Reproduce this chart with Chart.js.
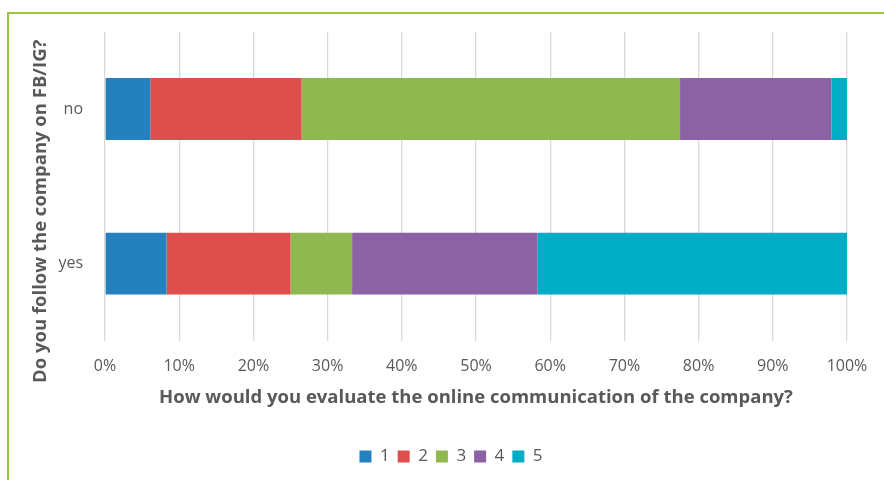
<!DOCTYPE html>
<html>
<head>
<meta charset="utf-8">
<title>Online communication vs. following on FB/IG</title>
<script src="https://cdn.jsdelivr.net/npm/chart.js@4"></script>
<style>
  html, body { margin: 0; padding: 0; background: #fff; overflow: hidden; }
  #frame {
    position: absolute; left: 7px; top: 12px;
    width: 920px; height: 520px;
    border: 2px solid #9bc53f;
  }
  #wrap { position: absolute; left: 0; top: 0; width: 884px; height: 480px; }
</style>
</head>
<body>
<div id="frame"></div>
<div id="wrap"><canvas id="chart" width="884" height="480"></canvas></div>
<script>
// answers per group, share of respondents in %
const categories = ['no', 'yes'];
const ratingLabels = ['1', '2', '3', '4', '5'];
const rating1 = [6.1, 8.3];
const rating2 = [20.4, 16.7];
const rating3 = [51.0, 8.3];
const rating4 = [20.4, 25.0];
const rating5 = [2.1, 41.7];
const xTicks = [0, 10, 20, 30, 40, 50, 60, 70, 80, 90, 100];

const colors = ['#2481bd', '#dd4f4d', '#8fb850', '#8b62a3', '#00adc6'];
const textGray = '#595959';
const fontFamily = '"Open Sans", "DejaVu Sans", sans-serif';

const yTitle = 'Do you follow the company on FB/IG?';

const seriesValues = [rating1, rating2, rating3, rating4, rating5];
const datasets = seriesValues.map((values, i) => ({
  label: ratingLabels[i],
  data: values,
  backgroundColor: colors[i],
  borderWidth: 0,
  barPercentage: 0.4,
  categoryPercentage: 1,
}));

// rotated y-axis title, drawn by hand so it can sit a bit lower than the plot centre
const yTitlePlugin = {
  id: 'yTitlePlugin',
  afterDraw(chart) {
    const { ctx, chartArea } = chart;
    ctx.save();
    ctx.font = 'bold 18.5px ' + fontFamily;
    ctx.fillStyle = textGray;
    ctx.textAlign = 'center';
    ctx.textBaseline = 'middle';
    ctx.translate(41, (chartArea.top + chartArea.bottom) / 2 + 25);
    ctx.rotate(-Math.PI / 2);
    ctx.fillText(yTitle, 0, 0);
    ctx.restore();
  }
};

new Chart(document.getElementById('chart'), {
  type: 'bar',
  data: { labels: categories, datasets: datasets },
  plugins: [yTitlePlugin],
  options: {
    indexAxis: 'y',
    responsive: false,
    animation: false,
    // left padding keeps the legend centred under the plot, y title is drawn separately
    layout: { padding: { top: 30, right: 37, left: 55, bottom: 5 } },
    plugins: {
      tooltip: { enabled: false },
      legend: {
        position: 'bottom',
        labels: {
          boxWidth: 12,
          boxHeight: 12,
          padding: 8,
          color: textGray,
          font: { family: fontFamily, size: 17 },
        },
      },
    },
    scales: {
      x: {
        stacked: true,
        min: 0,
        max: 100,
        afterBuildTicks: (scale) => { scale.ticks = xTicks.map((v) => ({ value: v })); },
        ticks: {
          callback: (v) => v + '%',
          color: textGray,
          padding: 16,
          maxRotation: 0,
          font: { family: fontFamily, size: 16 },
        },
        grid: { color: '#d9d9d9', lineWidth: 1.3, drawTicks: false },
        border: { display: false },
        title: {
          display: true,
          text: 'How would you evaluate the online communication of the company?',
          color: textGray,
          font: { family: fontFamily, size: 18.5, weight: 'bold' },
          padding: { top: 6, bottom: 31 },
        },
        afterFit: (scale) => { scale.height = 99; },
      },
      y: {
        stacked: true,
        ticks: {
          color: textGray,
          padding: 22,
          font: { family: fontFamily, size: 16 },
        },
        grid: { display: false, drawTicks: false },
        border: { display: false },
        afterFit: (scale) => { scale.width = 50; },
      },
    },
  },
});
</script>
</body>
</html>
